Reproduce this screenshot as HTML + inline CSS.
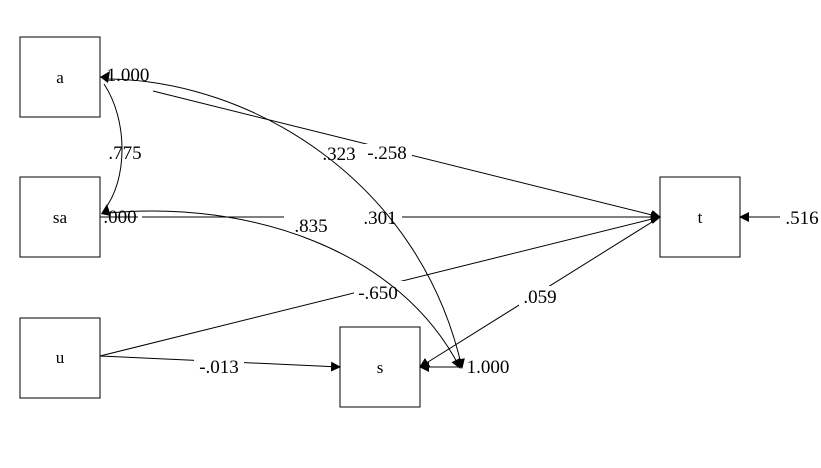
<!DOCTYPE html>
<html><head><style>body{margin:0;background:#fff}</style></head><body>
<svg width="821" height="463" xmlns="http://www.w3.org/2000/svg" font-family="Liberation Serif, serif" font-size="19">
<defs><marker id="ar" markerWidth="10" markerHeight="10" refX="9" refY="5" orient="auto" markerUnits="userSpaceOnUse"><path d="M0,0 L10,5 L0,10 z" fill="#000"/></marker></defs>
<g fill="none" stroke="#000" stroke-width="1">
<rect x="20" y="37" width="80" height="80"/>
<rect x="20" y="177" width="80" height="80"/>
<rect x="20" y="318" width="80" height="80"/>
<rect x="340" y="327" width="80" height="80"/>
<rect x="660" y="177" width="80" height="80"/>
<line x1="153" y1="91" x2="660" y2="217" marker-end="url(#ar)"/>
<line x1="100" y1="217" x2="660" y2="217" marker-end="url(#ar)"/>
<line x1="100" y1="356" x2="660" y2="217" marker-end="url(#ar)"/>
<line x1="100" y1="356" x2="340" y2="367" marker-end="url(#ar)"/>
<line x1="660" y1="217" x2="420" y2="367" marker-end="url(#ar)"/>
<line x1="462" y1="367" x2="420" y2="367" marker-end="url(#ar)"/>
<line x1="780" y1="217" x2="740" y2="217" marker-end="url(#ar)"/>
</g>
<g fill="#fff">
<rect x="318" y="144" width="94" height="20"/>
<rect x="284" y="208" width="118" height="24"/>
<rect x="354" y="281" width="52" height="20"/>
<rect x="519" y="286" width="42" height="20"/>
<rect x="194" y="357" width="50" height="20"/>
<rect x="106" y="142" width="38" height="20"/>
<rect x="138" y="206" width="4" height="18"/>
</g>
<g>
<text x="60" y="83" text-anchor="middle" font-size="17">a</text>
<text x="60" y="223" text-anchor="middle" font-size="17">sa</text>
<text x="60" y="363" text-anchor="middle" font-size="17">u</text>
<text x="380" y="373" text-anchor="middle" font-size="17">s</text>
<text x="700" y="223" text-anchor="middle" font-size="17">t</text>
</g>
<g text-anchor="middle">
<text x="128" y="81">1.000</text>
<text x="125" y="159">.775</text>
<text x="120" y="223">.000</text>
<text x="339" y="160">.323</text><text x="387" y="159">-.258</text>
<text x="311" y="232">.835</text><text x="380" y="224">.301</text>
<text x="378" y="299">-.650</text>
<text x="540" y="303">.059</text>
<text x="219" y="373">-.013</text>
<text x="488" y="373">1.000</text>
<text x="802" y="224">.516</text>
</g>
<g fill="none" stroke="#000" stroke-width="1">
<path d="M108,79 C250,80 420,180 462,368" marker-end="url(#ar)"/>
<path d="M104,84 C128,120 128,180 104,210"/>
<path d="M108,213 C250,200 400,250 460,368" marker-end="url(#ar)"/>
</g>
<polygon points="100,77 110,71 108,83" fill="#000"/>
<polygon points="101,214 107,204 111,216" fill="#000"/>
</svg>
</body></html>
